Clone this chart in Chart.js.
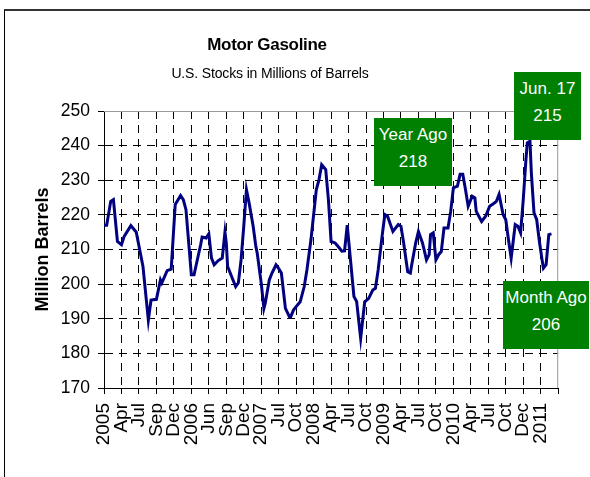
<!DOCTYPE html>
<html>
<head>
<meta charset="utf-8">
<script src="https://cdn.jsdelivr.net/npm/chart.js@4.4.1/dist/chart.umd.min.js"></script>
<style>
  html, body { margin: 0; padding: 0; background: #fff; }
  #wrap { position: relative; width: 590px; height: 477px; overflow: hidden; font-family: "Liberation Sans", Arial, sans-serif; }
  #frame { position: absolute; left: 4px; top: 9px; width: 700px; height: 600px; border-left: 1px solid #000; border-top: 2px solid #333; box-sizing: border-box; }
  canvas { position: absolute; left: 0; top: 0; }
  .t { position: absolute; white-space: nowrap; transform: translate(-50%, -50%); color: #000; }
  .box { position: absolute; background: #008000; color: #fff; text-align: center; font-size: 17px; line-height: 27px; padding-top: 3px; box-sizing: border-box; }
</style>
</head>
<body>
<div id="wrap">
  <div id="frame"></div>
  <canvas id="c" width="590" height="477"></canvas>
  <div class="t" style="left:267px; top:45px; font-size:17px; font-weight:bold; letter-spacing:-0.3px;">Motor Gasoline</div>
  <div class="t" style="left:270px; top:73px; font-size:14px; letter-spacing:-0.15px;">U.S. Stocks in Millions of Barrels</div>
  <div class="box" style="left:514px; top:72px; width:67px; height:68px;">Jun. 17<br>215</div>
  <div class="box" style="left:374px; top:118px; width:78px; height:68px;">Year Ago<br>218</div>
  <div class="box" style="left:503px; top:281px; width:86px; height:68px;">Month Ago<br>206</div>
</div>
<script>
// Tick labels along the category axis (one every 13 weeks)
const tickLabels = ["2005","Apr","Jul","Sep","Dec","2006","Jun","Sep","Dec","2007","Jul","Oct","2008",
                    "Apr","Jul","Oct","2009","Apr","Jul","Oct","2010","Apr","Jul","Oct","Dec","2011"];
// Week index (from start of series) of each value
const weeks = [0,2,5,7,10,13,15,20,23,24,29,33,35,39,42,43,47,50,53,57,59,61,65,67,72,73,76,78,80,82,85,88,90,91,92,96,98,100,
  102,104,106,108,111,113,114,117,119,120,123,125,128,129,132,135,138,139,141,144,146,149,151,154,158,160,162,165,167,169,172,175,
  177,179,181,186,188,191,194,197,200,202,204,207,209,211,215,219,221,223,226,228,229,232,234,237,240,242,243,245,247,249,251,253,
  256,258,260,263,265,267,269,271,274,276,277,281,284,287,290,292,294,297,299,301,303,306,308,310,312,314,315,317,318,320,322,324,
  326,327,329,331,333];
// U.S. motor gasoline stocks, million barrels
const stocks = [217,217,223.9,224.4,212.3,211.4,213.8,216.9,215.5,215,205.1,189.6,195.4,195.6,201.2,200.3,203.9,204.3,223,225.6,224.4,221.5,202.7,202.7,211.5,213.6,213.3,214.5,207.5,205.6,206.8,207.5,215,211.9,205.1,201.2,199.3,200.4,
  207,216.7,227.3,223.4,216.7,210.9,209,200.3,193,194.5,201.2,203.2,205.6,205.1,203.2,193,190.6,190.6,192.5,194,194.9,199.3,204.1,212.8,227.3,230.2,234.5,233.1,224.4,212.3,211.9,210.5,
  209.5,209.6,217,196.4,195,184.3,194.9,195.9,198.3,198.8,204.1,214,220.1,219.6,215.2,217.2,216.7,211.9,203.6,203.2,205.6,212,215.2,211.9,207,208.5,214.3,214.8,207,208.5,209.4,216.2,
  216.2,221,227.8,228.3,231.7,231.7,227.3,222.5,225.4,224.9,221,218.1,219.6,222.5,223.3,223.9,225.9,220.1,218.6,212.8,207.5,217.2,216.7,214.8,224.4,236,240.8,241.3,232.2,220.6,218.6,212.3,
  207,204.6,205.6,214.3,214.5];
const weeksPerTick = 13;
const axisWeeks = weeksPerTick * tickLabels.length; // 338

const plotFrame = {
  id: 'plotFrame',
  beforeDatasetsDraw(chart) {
    const {ctx, chartArea: a} = chart;
    ctx.save();
    ctx.strokeStyle = '#999';
    ctx.lineWidth = 1;
    ctx.beginPath();
    ctx.moveTo(a.left, a.top + 0.5);
    ctx.lineTo(a.right - 0.5, a.top + 0.5);
    ctx.lineTo(a.right - 0.5, a.bottom);
    ctx.stroke();
    ctx.restore();
  }
};

new Chart(document.getElementById('c'), {
  type: 'line',
  data: {
    datasets: [{
      data: weeks.map((w, i) => ({x: w, y: stocks[i]})),
      borderColor: '#000080',
      borderWidth: 3,
      pointRadius: 0,
      tension: 0,
      fill: false
    }]
  },
  options: {
    responsive: false,
    animation: false,
    devicePixelRatio: 1,
    layout: { padding: { left: 0, top: 111, right: 30, bottom: 0 } },
    plugins: { legend: { display: false }, tooltip: { enabled: false }, title: { display: false } },
    scales: {
      x: {
        type: 'linear',
        min: 0,
        max: axisWeeks,
        afterFit(s) { s.height = 89; },
        border: { display: true, color: '#000', width: 1, dash: [8, 6] },
        grid: {
          color: c => (c.tick && (c.tick.value === 0 || c.tick.value === axisWeeks)) ? 'rgba(0,0,0,0)' : '#000',
          tickColor: '#000', tickLength: 6, lineWidth: 1
        },
        ticks: {
          stepSize: weeksPerTick,
          autoSkip: false,
          maxRotation: 90,
          minRotation: 90,
          padding: 9,
          color: '#000',
          font: { family: '"Liberation Sans", Arial, sans-serif', size: 19 },
          callback: v => { const i = Math.round(v / weeksPerTick); return tickLabels[i] !== undefined ? tickLabels[i] : ''; }
        }
      },
      y: {
        min: 170,
        max: 250,
        afterFit(s) { s.width = 104; },
        border: { display: true, color: '#000', width: 1, dash: [8, 6] },
        grid: {
          color: c => (c.tick && (c.tick.value === 250 || c.tick.value === 170)) ? 'rgba(0,0,0,0)' : '#000',
          tickColor: '#000', tickLength: 6, lineWidth: 1
        },
        ticks: {
          stepSize: 10,
          padding: 8,
          color: '#000',
          font: { family: '"Liberation Sans", Arial, sans-serif', size: 17.5 }
        },
        title: {
          display: true,
          text: 'Million Barrels',
          color: '#000',
          padding: { top: 32, bottom: 0 },
          font: { family: '"Liberation Sans", Arial, sans-serif', size: 18, weight: 'bold' }
        }
      }
    }
  },
  plugins: [plotFrame]
});
</script>
</body>
</html>
